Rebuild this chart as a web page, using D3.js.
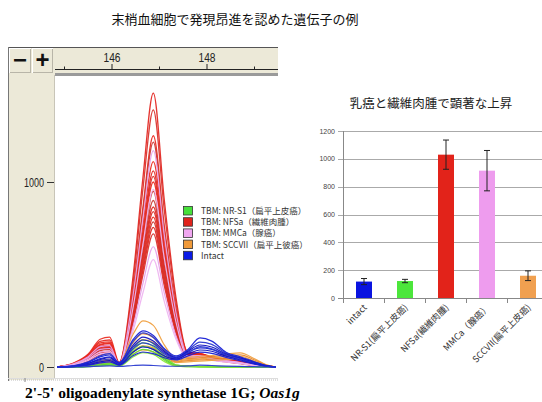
<!DOCTYPE html>
<html><head><meta charset="utf-8">
<script src="https://cdn.jsdelivr.net/npm/d3@7"></script>
<style>
html,body{margin:0;padding:0;background:#fff;}
svg{display:block;}
</style></head>
<body>
<script>
// ---------------- DATA ----------------
const mainTitle = "末梢血細胞で発現昂進を認めた遺伝子の例";
const geneNameRoman = "2'-5' oligoadenylate synthetase 1G; ";
const geneNameItalic = "Oas1g";
const rulerTicks = [145, 146, 147, 148, 149];
const rulerLabels = [146, 148];
const traceYTicks = [0, 1000];
const traceX = [144.85, 145.2, 145.5, 145.75, 145.95, 146.15, 146.45, 146.65, 146.87, 147.1, 147.35, 147.6, 147.85, 148.1, 148.4, 148.7, 149.0, 149.25, 149.45];

const redTraces = [
  [0,18,60,118,128,22,505,1020,1480,905,370,75,70,52,40,28,14,4,0],
  [0,15,52,105,112,18,470,960,1390,850,345,68,66,48,36,26,12,4,0],
  [0,22,70,150,162,25,425,860,1250,765,310,80,74,55,42,30,15,5,0],
  [0,12,45,92,98,15,410,840,1215,740,300,62,60,45,35,24,12,3,0],
  [0,20,66,138,146,20,360,730,1060,650,265,70,72,50,38,26,13,4,0],
  [0,14,50,100,104,16,350,710,1030,630,255,58,62,44,33,22,10,3,0],
  [0,18,58,122,130,20,340,690,1000,610,250,66,68,50,40,28,14,4,0],
  [0,10,40,80,86,12,305,620,900,550,225,55,58,42,32,22,10,3,0],
  [0,16,55,112,118,18,295,600,865,530,215,64,70,52,42,30,15,5,0],
  [0,12,44,88,95,14,285,580,840,515,210,52,55,40,30,20,9,2,0],
  [0,20,62,130,136,20,275,560,810,495,200,60,64,48,36,25,12,4,0],
  [0,8,32,66,72,10,265,540,785,480,195,50,54,40,30,20,9,3,0],
  [0,14,48,98,106,15,255,520,755,460,190,58,60,46,34,24,11,3,0],
  [0,10,38,76,82,12,245,495,720,440,180,48,52,38,28,18,8,2,0],
  [0,16,54,108,114,16,380,770,1110,685,280,62,66,47,35,25,12,3,0],
  [0,12,46,94,100,14,325,650,950,580,235,56,60,44,32,22,10,3,0]
];
const pinkTraces = [
  [0,15,50,95,100,18,400,800,1170,715,290,60,62,45,34,24,11,3,0],
  [0,12,42,80,86,14,330,660,960,590,240,55,58,42,32,22,10,3,0],
  [0,18,56,110,116,16,225,450,650,400,165,50,55,40,30,20,9,2,0],
  [0,10,36,70,76,12,200,400,580,355,148,45,50,36,26,18,8,2,0]
];
const orangeTraces = [
  [0,4,15,35,42,22,180,249,225,120,45,52,58,62,70,76,45,12,0],
  [0,3,12,30,36,18,135,180,160,90,38,45,50,55,62,66,38,10,0],
  [0,2,10,25,30,15,110,148,132,75,32,40,44,50,55,58,32,8,0],
  [0,2,8,20,24,12,85,115,102,60,28,34,38,42,48,50,28,7,0],
  [0,1,6,16,20,10,70,92,82,48,24,28,32,36,40,42,22,6,0]
];
const greenTraces = [
  [0,0,5,15,20,10,100,146,125,60,12,5,3,2,0,0,0,0,0],
  [0,0,4,12,16,8,92,130,110,52,10,4,2,1,0,0,0,0,0],
  [0,0,3,10,14,6,80,112,95,45,8,3,2,1,0,0,0,0,0],
  [0,0,2,8,12,5,68,95,82,38,6,2,1,0,0,0,0,0,0],
  [0,0,2,6,10,4,55,78,68,30,5,2,1,0,0,0,0,0,0]
];
const blueTraces = [
  [0,5,20,45,55,20,150,195,170,100,60,95,157,140,80,55,28,8,0],
  [0,8,28,60,72,25,140,184,160,95,55,90,135,122,75,50,25,7,0],
  [0,4,18,40,50,18,120,162,140,85,50,85,119,108,70,48,24,6,0],
  [0,6,25,55,65,22,110,146,128,78,48,80,103,95,66,45,22,6,0],
  [0,3,15,35,42,15,100,130,115,70,45,75,110,98,62,42,20,5,0],
  [0,2,12,28,35,12,82,108,95,60,42,70,92,85,58,38,18,5,0],
  [0,2,10,22,28,10,62,81,72,50,38,60,80,74,52,34,16,4,0],
  [0,0,2,5,6,3,8,10,8,5,4,6,10,8,5,3,2,0,0]
];
const legendLabels = ["TBM: NR-S1（扁平上皮癌）", "TBM: NFSa（繊維肉腫）", "TBM: MMCa（腺癌）", "TBM: SCCVII（扁平上彼癌）", "Intact"];
const legendColors = ["#46e03a", "#e0231c", "#f0a6f0", "#f09a3a", "#0a1ae6"];

const barTitle = "乳癌と繊維肉腫で顕著な上昇";
const barCategories = ["intact", "NR-S1(扁平上皮癌)", "NFSa(繊維肉腫)", "MMCa（腺癌）", "SCCVII(扁平上皮癌)"];
const barValues = [118, 122, 1030, 915, 160];
const barErrors = [22, 12, 105, 145, 35];
const barColors = ["#0a14e0", "#4ce63c", "#e2231a", "#ee9cee", "#f0a050"];
const barYTicks = [0, 200, 400, 600, 800, 1000, 1200];

// ---------------- DRAW ----------------
const W = 542, H = 402;
const svg = d3.select("body").append("svg").attr("width", W).attr("height", H)
  .style("font-family", "'Liberation Sans', Arial, sans-serif");
svg.append("rect").attr("width", W).attr("height", H).attr("fill", "#fff");

const cjk = "'Noto Sans CJK JP', 'Noto Sans', sans-serif";

// main title
svg.append("text").attr("x", 235).attr("y", 24).attr("text-anchor", "middle")
  .style("font-family", cjk).style("font-size", "13px").attr("fill", "#111").text(mainTitle);

// ---- left panel frame ----
const beige = "#ece9d8";
const px = d3.scaleLinear().domain([146, 148]).range([112, 207]);
const py = d3.scaleLinear().domain([0, 1000]).range([367, 182]);

const L = svg.append("g");
L.append("rect").attr("x", 8).attr("y", 47).attr("width", 270).attr("height", 28).attr("fill", beige);
L.append("rect").attr("x", 8).attr("y", 75).attr("width", 46).attr("height", 305).attr("fill", beige);
L.append("line").attr("x1", 8).attr("x2", 278).attr("y1", 47.5).attr("y2", 47.5).attr("stroke", "#555");
L.append("line").attr("x1", 8.5).attr("x2", 8.5).attr("y1", 47).attr("y2", 381).attr("stroke", "#777");
L.append("line").attr("x1", 54.5).attr("x2", 54.5).attr("y1", 75).attr("y2", 379).attr("stroke", "#c8c5b8");
[[9, 31, "−"], [32, 53, "+"]].forEach(b => {
  L.append("rect").attr("x", b[0] + 0.5).attr("y", 48.5).attr("width", b[1] - b[0] - 1).attr("height", 24)
    .attr("fill", beige).attr("stroke", "#fff").attr("stroke-width", 1);
  L.append("line").attr("x1", b[0] + 1).attr("x2", b[1] - 0.5).attr("y1", 72.5).attr("y2", 72.5).attr("stroke", "#b8b5a8");
  L.append("line").attr("x1", b[1] - 0.5).attr("x2", b[1] - 0.5).attr("y1", 49).attr("y2", 73).attr("stroke", "#b8b5a8");
  L.append("text").attr("x", (b[0] + b[1]) / 2).attr("y", 68).attr("text-anchor", "middle")
    .style("font-size", "24px").style("font-weight", "bold").attr("fill", "#111").text(b[2]);
});
L.append("line").attr("x1", 55).attr("x2", 278).attr("y1", 69.5).attr("y2", 69.5).attr("stroke", "#222");
L.append("rect").attr("x", 55).attr("y", 73).attr("width", 223).attr("height", 3).attr("fill", "#9a9a9a");
L.selectAll(".rt").data(rulerTicks).enter().append("line")
  .attr("x1", d => px(d)).attr("x2", d => px(d))
  .attr("y1", d => rulerLabels.includes(d) ? 64 : 66.5).attr("y2", 69.5)
  .attr("stroke", "#222");
L.selectAll(".rl").data(rulerLabels).enter().append("text")
  .attr("x", d => px(d) - 8.5).attr("y", 62)
  .attr("textLength", 17).attr("lengthAdjust", "spacingAndGlyphs")
  .style("font-size", "12px").attr("fill", "#222").text(d => d);
L.selectAll(".yt").data(traceYTicks).enter().append("line")
  .attr("x1", 47).attr("x2", 54).attr("y1", d => py(d) + 0.5).attr("y2", d => py(d) + 0.5).attr("stroke", "#333");
L.selectAll(".yl").data(traceYTicks).enter().append("text")
  .attr("x", 44).attr("y", d => py(d) + 4.5).attr("text-anchor", "end")
  .attr("textLength", d => String(d).length * 5).attr("lengthAdjust", "spacingAndGlyphs")
  .style("font-size", "12px").attr("fill", "#222").text(d => d);
L.append("line").attr("x1", 9).attr("x2", 278).attr("y1", 380).attr("y2", 380)
  .attr("stroke", "#bbb").attr("stroke-dasharray", "1,1");
L.append("line").attr("x1", 8).attr("x2", 278).attr("y1", 378.5).attr("y2", 378.5).attr("stroke", "#ddd");
[25, 110].forEach(t => L.append("line").attr("x1", t).attr("x2", t).attr("y1", 378).attr("y2", 382).attr("stroke", "#888"));

// traces
svg.append("clipPath").attr("id", "plotclip").append("rect")
  .attr("x", 55).attr("y", 76).attr("width", 223).attr("height", 302);
const P = svg.append("g").attr("clip-path", "url(#plotclip)");
const line = d3.line().x((d, i) => px(traceX[i])).y(d => py(d)).curve(d3.curveMonotoneX);
function drawGroup(data, colors, w, op) {
  data.forEach((t, i) => {
    P.append("path").attr("d", line(t)).attr("fill", "none")
      .attr("stroke", colors[i % colors.length]).attr("stroke-width", w).attr("stroke-opacity", op);
  });
}
drawGroup(redTraces, ["#e3241e", "#d8302a", "#ea2a20", "#c93a33"], 1.3, 0.92);
drawGroup(pinkTraces, ["#e6a2ea", "#eeb4f0"], 1.2, 0.95);
drawGroup(orangeTraces, ["#f0a040", "#e88a30"], 1.2, 0.95);
drawGroup(greenTraces, ["#66d83a", "#8ae83a", "#4cc83a"], 1.2, 0.95);
drawGroup(blueTraces, ["#1a22d6", "#2a3ad0", "#1010c0"], 1.2, 0.95);

// legend
const lg = svg.append("g");
legendLabels.forEach((lab, i) => {
  const yy = 206.5 + i * 11.2;
  lg.append("rect").attr("x", 183.5).attr("y", yy).attr("width", 9).attr("height", 8.5)
    .attr("fill", legendColors[i]).attr("stroke", "#333").attr("stroke-width", 0.8);
  lg.append("text").attr("x", 201).attr("y", yy + 7.5).style("font-family", cjk)
    .style("font-size", "8.5px").attr("fill", "#333").text(lab);
});

// gene name
const gt = svg.append("text").attr("x", 25).attr("y", 398)
  .style("font-family", "'Liberation Serif', 'Times New Roman', serif")
  .style("font-size", "15.5px").style("font-weight", "bold").attr("fill", "#000");
gt.append("tspan").text(geneNameRoman);
gt.append("tspan").style("font-style", "italic").text(geneNameItalic);

// ---------------- bar chart ----------------
svg.append("text").attr("x", 431).attr("y", 108).attr("text-anchor", "middle")
  .style("font-family", cjk).style("font-size", "12.5px").attr("fill", "#222").text(barTitle);

const bx = d3.scaleBand().domain(barCategories).range([343, 548]).padding(0);
const by = d3.scaleLinear().domain([0, 1200]).range([298, 131]);
const B = svg.append("g");
B.selectAll(".g").data(barYTicks).enter().append("line")
  .attr("x1", 338).attr("x2", 542).attr("y1", d => Math.round(by(d)) + 0.5).attr("y2", d => Math.round(by(d)) + 0.5)
  .attr("stroke", d => d === 0 ? "#888" : "#aaa").attr("stroke-width", 1);
B.selectAll(".yl").data(barYTicks).enter().append("text")
  .attr("x", 335).attr("y", d => by(d) + 2.5).attr("text-anchor", "end")
  .style("font-size", "7px").attr("fill", "#444").text(d => d);
B.append("line").attr("x1", 343.5).attr("x2", 343.5).attr("y1", 131).attr("y2", 303).attr("stroke", "#888");
B.selectAll(".xt").data(barCategories).enter().append("line")
  .attr("x1", d => bx(d) + 0.5).attr("x2", d => bx(d) + 0.5).attr("y1", 298).attr("y2", 303).attr("stroke", "#888");
const bw = 16;
B.selectAll(".bar").data(barCategories).enter().append("rect")
  .attr("x", d => bx(d) + bx.bandwidth() / 2 - bw / 2 + 0.5)
  .attr("y", (d, i) => by(barValues[i]))
  .attr("width", bw).attr("height", (d, i) => by(0) - by(barValues[i]))
  .attr("fill", (d, i) => barColors[i]);
barCategories.forEach((c, i) => {
  const cx = bx(c) + bx.bandwidth() / 2 + 0.5;
  const t = by(barValues[i] + barErrors[i]), b = by(barValues[i] - barErrors[i]);
  B.append("line").attr("x1", cx).attr("x2", cx).attr("y1", t).attr("y2", b).attr("stroke", "#222");
  [t, b].forEach(v => B.append("line").attr("x1", cx - 3).attr("x2", cx + 3).attr("y1", v).attr("y2", v).attr("stroke", "#222"));
});
B.selectAll(".xl").data(barCategories).enter().append("text")
  .attr("transform", d => `translate(${bx(d) + bx.bandwidth() / 2 + 4},${308}) rotate(-45)`)
  .attr("text-anchor", "end").style("font-family", cjk)
  .style("font-size", "9px").attr("fill", "#333").text(d => d);
</script>
</body></html>
